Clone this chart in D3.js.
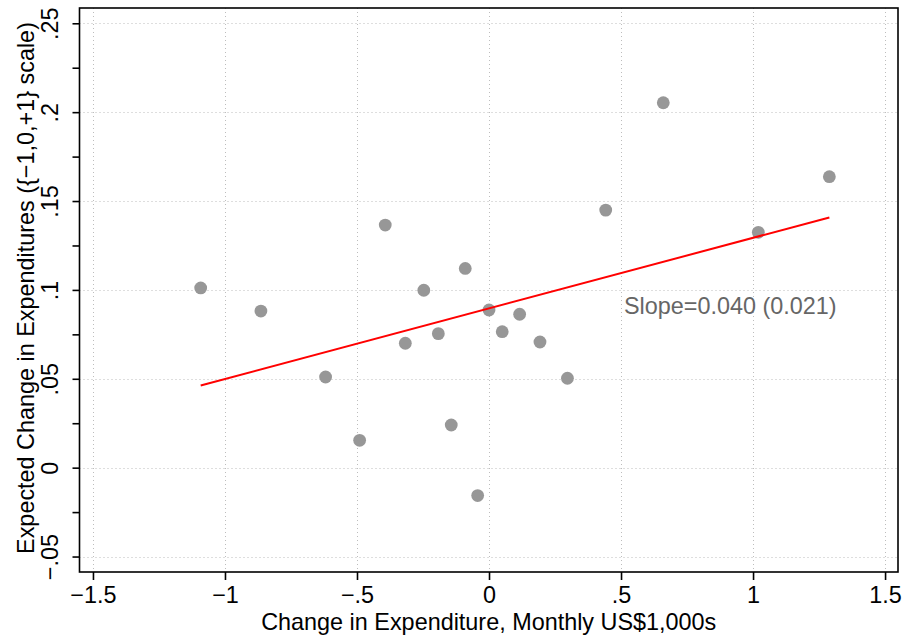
<!DOCTYPE html>
<html>
<head>
<meta charset="utf-8">
<script src="https://cdn.jsdelivr.net/npm/d3@7"></script>
<style>
    html, body { margin: 0; padding: 0; background: #fff; }
    svg { display: block; font-family: "Liberation Sans", Arial, Helvetica, sans-serif; }
</style>
</head>
<body>
<div id="root"></div>
<script>
// change in expenditure (US$1,000s / month) vs expected change in expenditures
const xValues = [
    -1.092, -0.864, -0.619, -0.490, -0.393, -0.317, -0.247, -0.192, -0.143, -0.090,
    -0.043, 0.000, 0.050, 0.116, 0.193, 0.297, 0.442, 0.660, 1.020, 1.289
];
const yValues = [
    0.1011, 0.0881, 0.0510, 0.0154, 0.1365, 0.0700, 0.0998, 0.0754, 0.0240, 0.1121,
    -0.0157, 0.0887, 0.0765, 0.0863, 0.0707, 0.0503, 0.1449, 0.2053, 0.1324, 0.1637
];

// fitted line
const fitSlope = 0.0397;
const fitIntercept = 0.0896;
const slopeLabel = 'Slope=0.040 (0.021)';
const labelAt = [0.511, 0.0865];

const xTicks = [-1.5, -1, -0.5, 0, 0.5, 1, 1.5];
const xTickLabels = ['\u22121.5', '\u22121', '\u2212.5', '0', '.5', '1', '1.5'];
const yTicks = [-0.05, 0, 0.05, 0.1, 0.15, 0.2, 0.25];
const yTickLabels = ['\u2212.05', '0', '.05', '.1', '.15', '.2', '.25'];
const yMinorTicks = [-0.025, 0.025, 0.075, 0.125, 0.175, 0.225];

const xTitle = 'Change in Expenditure, Monthly US$1,000s';
const yTitle = 'Expected Change in Expenditures ({\u22121,0,+1} scale)';

const width = 902;
const height = 637;
const margin = { top: 8, right: 4, bottom: 65, left: 79.5 };
const fontSize = 23.4;

const svg = d3.select('#root').append('svg').
    attr('width', width).
    attr('height', height);

const xScale = d3.scaleLinear().
    domain([-1.551, 1.549]).
    range([margin.left, width - margin.right]);

const yScale = d3.scaleLinear().
    domain([-0.0587, 0.2586]).
    range([height - margin.bottom, margin.top]);

const plotLeft = margin.left;
const plotRight = width - margin.right;
const plotTop = margin.top;
const plotBottom = height - margin.bottom;

// snap hairlines to the pixel grid so the dots stay crisp
const crisp = v => Math.round(v) + 0.5;

// gridlines
const grid = svg.append('g').attr('class', 'grid');

grid.selectAll('line.gx').data(xTicks).enter().append('line').
    attr('x1', d => crisp(xScale(d))).
    attr('x2', d => crisp(xScale(d))).
    attr('y1', plotTop).
    attr('y2', plotBottom).
    attr('stroke', '#bdbdbd').
    attr('stroke-width', 1).
    attr('stroke-dasharray', '1,3');

grid.selectAll('line.gy').data(yTicks).enter().append('line').
    attr('x1', plotLeft).
    attr('x2', plotRight).
    attr('y1', d => crisp(yScale(d))).
    attr('y2', d => crisp(yScale(d))).
    attr('stroke', '#bdbdbd').
    attr('stroke-width', 1).
    attr('stroke-dasharray', '1,3');

// points
svg.append('g').selectAll('circle').
    data(xValues.map((x, i) => [x, yValues[i]])).
    enter().append('circle').
    attr('cx', d => xScale(d[0])).
    attr('cy', d => yScale(d[1])).
    attr('r', 6.4).
    attr('fill', '#979797');

// fitted line over the x range
const xExtent = d3.extent(xValues);
const line = d3.line().
    x(d => xScale(d)).
    y(d => yScale(fitIntercept + fitSlope * d));

svg.append('path').
    datum(xExtent).
    attr('d', line).
    attr('fill', 'none').
    attr('stroke', '#ff0000').
    attr('stroke-width', 2);

svg.append('text').
    attr('x', xScale(labelAt[0])).
    attr('y', yScale(labelAt[1])).
    attr('fill', '#666666').
    attr('font-size', fontSize).
    text(slopeLabel);

// frame
svg.append('rect').
    attr('x', plotLeft).
    attr('y', plotTop).
    attr('width', plotRight - plotLeft).
    attr('height', plotBottom - plotTop).
    attr('fill', 'none').
    attr('stroke', '#000').
    attr('stroke-width', 1.6);

// axes
const xAxis = d3.axisBottom(xScale).
    tickValues(xTicks).
    tickFormat((d, i) => xTickLabels[i]).
    tickSize(8).
    tickSizeOuter(0).
    tickPadding(6.5);

const gx = svg.append('g').
    attr('transform', `translate(0, ${plotBottom})`).
    call(xAxis);

gx.select('.domain').remove();
gx.selectAll('line').attr('stroke', '#000').attr('stroke-width', 1.6);
gx.selectAll('text').
    attr('font-size', fontSize).
    attr('font-family', null).
    attr('fill', '#000');

const yAxis = d3.axisLeft(yScale).
    tickValues(yTicks.concat(yMinorTicks)).
    tickFormat(d => {
        const i = yTicks.indexOf(d);
        return i < 0 ? '' : yTickLabels[i];
    }).
    tickSize(7).
    tickSizeOuter(0);

const gy = svg.append('g').
    attr('transform', `translate(${plotLeft}, 0)`).
    call(yAxis);

gy.select('.domain').remove();
gy.selectAll('line').attr('stroke', '#000').attr('stroke-width', 1.6);
gy.selectAll('text').
    attr('x', null).
    attr('dy', null).
    attr('text-anchor', 'middle').
    attr('transform', 'translate(-21.5, 0) rotate(-90)').
    attr('font-size', fontSize).
    attr('fill', '#000');

// titles
svg.append('text').
    attr('x', (plotLeft + plotRight) / 2).
    attr('y', 630).
    attr('text-anchor', 'middle').
    attr('font-size', fontSize).
    attr('fill', '#000').
    text(xTitle);

svg.append('text').
    attr('transform', `translate(33.5, ${(plotTop + plotBottom) / 2 - 2}) rotate(-90)`).
    attr('text-anchor', 'middle').
    attr('font-size', fontSize).
    attr('fill', '#000').
    text(yTitle);
</script>
</body>
</html>
